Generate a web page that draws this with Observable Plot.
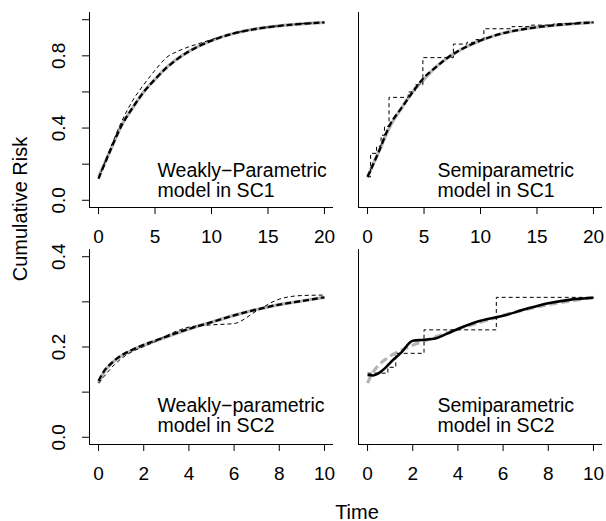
<!DOCTYPE html>
<html><head><meta charset="utf-8">
<script src="https://cdn.jsdelivr.net/npm/d3@7"></script>
<script src="https://cdn.jsdelivr.net/npm/@observablehq/plot@0.6"></script>
<style>
body{margin:0;background:#fff;}
#wrap{position:relative;width:606px;height:521px;font-family:"Liberation Sans",Arial,Helvetica,sans-serif;color:#000;overflow:hidden;}
.panel{position:absolute;}
.lab{position:absolute;font-size:20px;white-space:nowrap;}
</style></head><body><div id="wrap"></div><script>
// ---------- data ----------
// Scenario 1 (time 0..20)
const t1 = [0,1,2,3,4,5,6,7,8,9,10,12,14,16,18,20];
const trueSC1   = [0.13,0.27,0.41,0.51,0.60,0.67,0.735,0.785,0.825,0.858,0.885,0.925,0.950,0.966,0.977,0.985];
const meanWP1   = [0.12,0.27,0.41,0.51,0.60,0.67,0.733,0.783,0.824,0.857,0.884,0.924,0.950,0.966,0.977,0.985];
const sampleWP1 = [0.12,0.28,0.43,0.55,0.64,0.72,0.790,0.825,0.850,0.870,0.890,0.925,0.950,0.967,0.978,0.985];
const meanSP1   = [0.13,0.27,0.42,0.51,0.60,0.68,0.735,0.785,0.826,0.858,0.885,0.925,0.950,0.966,0.977,0.985];
const stepT1 = [0,0.27,0.8,1.2,1.5,1.9,3.6,4.2,4.9,7.6,8.8,9.6,10.3,12.8,14.5,16.5,18.5,20];
const stepY1 = [0.13,0.26,0.30,0.36,0.41,0.57,0.60,0.64,0.79,0.865,0.875,0.89,0.95,0.962,0.97,0.978,0.985,0.985];
// Scenario 2 (time 0..10)
const t2 = [0,0.25,0.5,0.75,1,1.5,2,2.5,3,3.5,4,5,6,7,8,9,10];
const trueSC2   = [0.12,0.145,0.160,0.171,0.180,0.193,0.204,0.213,0.222,0.231,0.240,0.255,0.270,0.283,0.294,0.302,0.310];
const meanWP2   = [0.125,0.147,0.161,0.172,0.181,0.194,0.205,0.214,0.223,0.232,0.240,0.255,0.270,0.283,0.294,0.302,0.310];
const sampleWP2 = [0.12,0.135,0.150,0.163,0.174,0.190,0.201,0.212,0.225,0.236,0.244,0.249,0.252,0.280,0.306,0.314,0.315];
const meanSP2   = [0.138,0.137,0.142,0.152,0.165,0.188,0.214,0.216,0.219,0.229,0.240,0.258,0.269,0.284,0.297,0.305,0.309];
const stepT2 = [0,0.9,1.25,2.5,5.7,10];
const stepY2 = [0.142,0.155,0.186,0.238,0.31,0.31];
// axes
const xDom1 = [-0.8,20.8], xTicks1 = [0,5,10,15,20];
const xDom2 = [-0.4,10.4], xTicks2 = [0,2,4,6,8,10];
const yDom1 = [-0.04,1.04], yTicks1 = [0,0.2,0.4,0.6,0.8,1.0], yLabels1 = [0,0.4,0.8];
const yDom2 = [-0.016,0.416], yTicks2 = [0,0.1,0.2,0.3,0.4], yLabels2 = [0,0.2,0.4];
const panelText = ["Weakly\u2212Parametric\nmodel in SC1","Semiparametric\nmodel in SC1","Weakly\u2212parametric\nmodel in SC2","Semiparametric\nmodel in SC2"];
const axisTitleX = "Time", axisTitleY = "Cumulative Risk";

const pts = (t, v) => t.map((x, i) => ({x, y: v[i]}));
const FONT = '"Liberation Sans", Arial, Helvetica, sans-serif';

function panel(o) {
  const marks = [
    Plot.ruleX([o.xDom[0]], {stroke: "#000", strokeWidth: 1}),
    Plot.ruleY([o.yDom[0]], {stroke: "#000", strokeWidth: 1}),
    Plot.axisX({ticks: o.xTicks, tickSize: 7, tickPadding: 15, fontSize: 19, label: null, tickFormat: d => String(d)}),
  ];
  if (o.showY) {
    marks.push(Plot.axisY({ticks: o.yTicks, tickSize: 7, label: null, tickFormat: () => ""}));
    marks.push(Plot.text(o.yLabels, {x: () => o.xDom[0], y: d => d, text: d => d.toFixed(1), rotate: -90, dx: -31, textAnchor: "middle", lineAnchor: "middle", fontSize: 19}));
  }
  for (const s of o.series) {
    marks.push(Plot.line(s.data, {x: "x", y: "y", stroke: s.stroke, strokeWidth: s.w, strokeDasharray: s.dash, curve: s.curve || "monotone-x", strokeLinecap: "butt"}));
  }
  marks.push(Plot.text([o.label], {frameAnchor: "bottom-left", text: d => d, textAnchor: "start", lineAnchor: "top", dx: o.tdx, dy: o.tdy, fontSize: 19.5, lineHeight: 1.03}));
  const p = Plot.plot({
    width: o.width, height: o.height,
    marginLeft: o.ml, marginRight: o.mr, marginTop: o.mt, marginBottom: o.mb,
    x: {domain: o.xDom, axis: null},
    y: {domain: o.yDom, axis: null},
    style: {fontFamily: FONT, fontSize: "19px", color: "#000", background: "transparent"},
    marks
  });
  p.classList.add("panel");
  p.style.left = o.left + "px";
  p.style.top = o.top + "px";
  document.getElementById("wrap").appendChild(p);
}

const GRAY = "#b5b5b5";
panel({left: 0, top: 0, width: 340, height: 247, ml: 89, mr: 7, mt: 12, mb: 40,
  xDom: xDom1, xTicks: xTicks1, yDom: yDom1, yTicks: yTicks1, yLabels: yLabels1, showY: true,
  label: panelText[0], tdx: 68, tdy: -45,
  series: [
    {data: pts(t1, trueSC1), stroke: GRAY, w: 3.2},
    {data: pts(t1, meanWP1), stroke: "#000", w: 2.3, dash: "6,3"},
    {data: pts(t1, sampleWP1), stroke: "#000", w: 1, dash: "4,3"}
  ]});
panel({left: 300, top: 0, width: 306, height: 247, ml: 58, mr: 4, mt: 12, mb: 40,
  xDom: xDom1, xTicks: xTicks1, yDom: yDom1, showY: false,
  label: panelText[1], tdx: 79, tdy: -45,
  series: [
    {data: pts(t1, trueSC1), stroke: GRAY, w: 3.2},
    {data: pts(t1, meanSP1), stroke: "#000", w: 2.3, dash: "6,3"},
    {data: pts(stepT1, stepY1), stroke: "#000", w: 1, dash: "4,3", curve: "step-after"}
  ]});
panel({left: 0, top: 240, width: 340, height: 250, ml: 89, mr: 7, mt: 9, mb: 46,
  xDom: xDom2, xTicks: xTicks2, yDom: yDom2, yTicks: yTicks2, yLabels: yLabels2, showY: true,
  label: panelText[2], tdx: 68, tdy: -47,
  series: [
    {data: pts(t2, trueSC2), stroke: GRAY, w: 3.2},
    {data: pts(t2, meanWP2), stroke: "#000", w: 2.3, dash: "6,3"},
    {data: pts(t2, sampleWP2), stroke: "#000", w: 1, dash: "4,3"}
  ]});
panel({left: 300, top: 240, width: 306, height: 250, ml: 58, mr: 4, mt: 9, mb: 46,
  xDom: xDom2, xTicks: xTicks2, yDom: yDom2, showY: false,
  label: panelText[3], tdx: 79, tdy: -47,
  series: [
    {data: pts(t2, trueSC2), stroke: GRAY, w: 3.2, dash: "8,4"},
    {data: pts(t2, meanSP2), stroke: "#000", w: 2.6},
    {data: pts(stepT2, stepY2), stroke: "#000", w: 1, dash: "4,3", curve: "step-after"}
  ]});

// outer axis titles
const wrap = document.getElementById("wrap");
const xl = document.createElement("div");
xl.className = "lab"; xl.textContent = axisTitleX;
xl.style.left = "357px"; xl.style.top = "512px"; xl.style.transform = "translate(-50%,-50%)";
wrap.appendChild(xl);
const yl = document.createElement("div");
yl.className = "lab"; yl.textContent = axisTitleY;
yl.style.left = "20px"; yl.style.top = "209px"; yl.style.transform = "translate(-50%,-50%) rotate(-90deg)";
wrap.appendChild(yl);
</script></body></html>
